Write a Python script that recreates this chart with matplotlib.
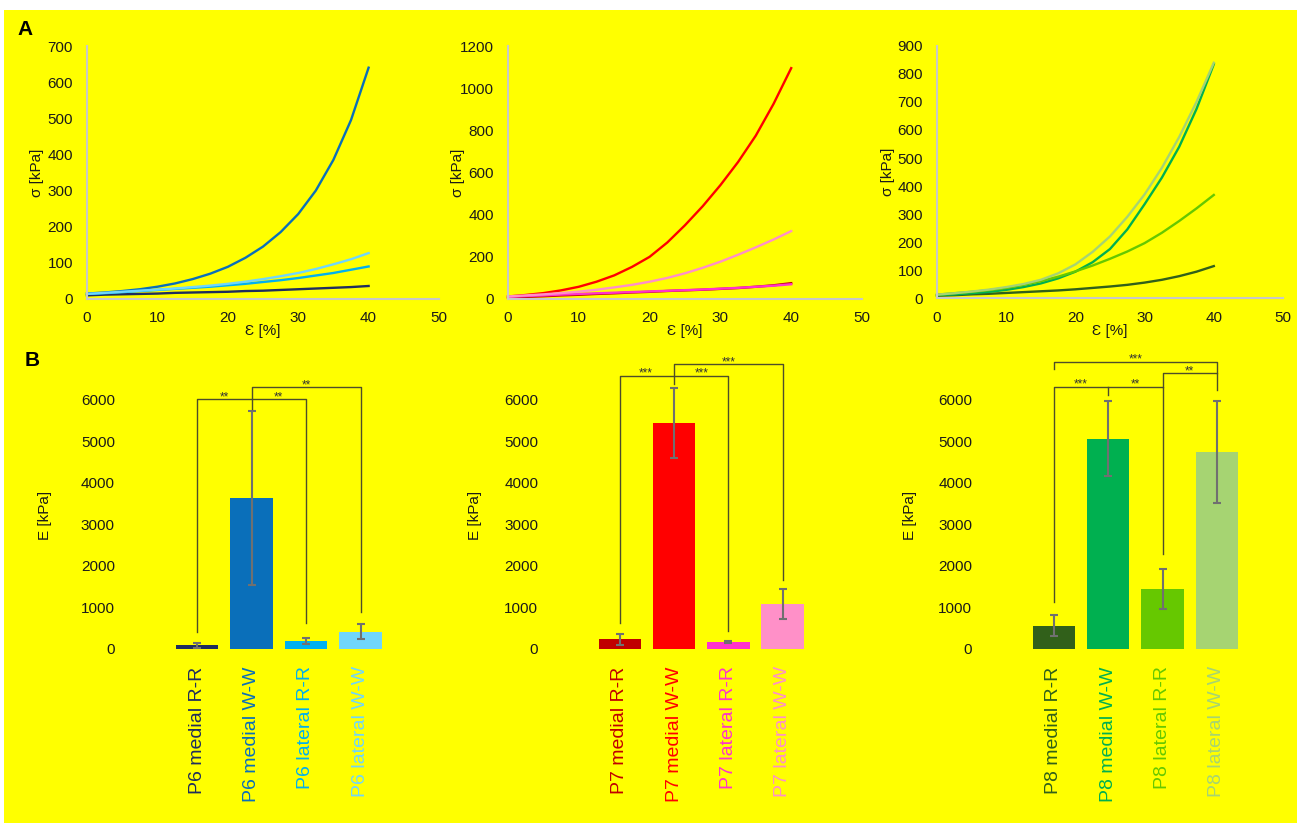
import numpy as np
import matplotlib.pyplot as plt
from matplotlib.patches import Rectangle

plt.rcParams['font.family'] = ['Liberation Sans', 'DejaVu Sans']

W, H = 1301, 825

# strain [%] at which stress is sampled
strain = [0, 2.5, 5, 7.5, 10, 12.5, 15, 17.5, 20, 22.5, 25, 27.5, 30, 32.5, 35, 37.5, 40]

# stress [kPa] per sample, order: medial R-R, medial W-W, lateral R-R, lateral W-W
p6_medial_rr = [10, 12, 13, 14, 15, 17, 18, 19, 20, 22, 23, 25, 27, 29, 31, 33, 36]
p6_medial_ww = [15, 18, 22, 27, 34, 43, 55, 70, 89, 114, 145, 185, 235, 300, 385, 495, 640]
p6_lateral_rr = [14, 16, 19, 22, 25, 28, 31, 34, 38, 42, 47, 52, 58, 65, 72, 81, 90]
p6_lateral_ww = [14, 17, 20, 23, 26, 29, 33, 37, 42, 48, 55, 63, 72, 83, 96, 110, 127]

p7_medial_rr = [6, 10, 13, 17, 20, 24, 27, 31, 34, 38, 41, 44, 48, 52, 58, 65, 75]
p7_medial_ww = [12, 19, 28, 41, 58, 82, 112, 152, 200, 268, 350, 440, 540, 650, 775, 925, 1095]
p7_lateral_rr = [10, 14, 17, 21, 24, 27, 30, 33, 36, 39, 42, 45, 49, 53, 58, 63, 70]
p7_lateral_ww = [12, 17, 22, 28, 35, 44, 55, 67, 82, 100, 122, 148, 177, 210, 245, 282, 322]

p8_medial_rr = [8, 10, 13, 15, 18, 21, 24, 27, 31, 36, 41, 47, 55, 65, 78, 94, 114]
p8_medial_ww = [10, 13, 17, 22, 29, 39, 52, 70, 94, 128, 175, 245, 335, 430, 540, 675, 835]
p8_lateral_rr = [12, 17, 22, 28, 36, 47, 60, 76, 95, 116, 140, 166, 196, 233, 275, 320, 368]
p8_lateral_ww = [12, 17, 23, 30, 39, 50, 65, 88, 120, 165, 220, 290, 370, 465, 575, 700, 840]

# elastic modulus E [kPa], mean and SD
groups = ['medial R-R', 'medial W-W', 'lateral R-R', 'lateral W-W']
p6_E = [90, 3630, 200, 420]
p6_sd = [60, 2100, 70, 190]
p7_E = [230, 5450, 170, 1085]
p7_sd = [140, 840, 20, 355]
p8_E = [560, 5060, 1450, 4750]
p8_sd = [250, 900, 480, 1230]

p6_colors = ['#1f2d5e', '#0a6fba', '#00b0f0', '#70d6fb']
p7_colors = ['#c00000', '#ff0000', '#ff33cc', '#ff90c8']
p8_colors = ['#31601a', '#00b050', '#66c800', '#a6d472']

fig = plt.figure(figsize=(W / 100, H / 100), dpi=100, facecolor='white')
fig.add_artist(Rectangle((4 / W, 1 - 823 / H), 1293 / W, 813 / H,
                         transform=fig.transFigure, facecolor='#ffff00',
                         edgecolor='none', zorder=-5))


def px_axes(l, t, r, b):
    ax = fig.add_axes([l / W, 1 - b / H, (r - l) / W, (b - t) / H])
    ax.set_facecolor('none')
    return ax


# --- A: stress-strain curves ---
stress_panels = [
    ((87, 46, 439, 299), 700, 100, [p6_medial_rr, p6_medial_ww, p6_lateral_rr, p6_lateral_ww], p6_colors, 37),
    ((508, 46, 862, 299), 1200, 200, [p7_medial_rr, p7_medial_ww, p7_lateral_rr, p7_lateral_ww], p7_colors, 458),
    ((937, 46, 1283, 298), 900, 100, [p8_medial_rr, p8_medial_ww, p8_lateral_rr, p8_lateral_ww], p8_colors, 888),
]
for box, ymax, ystep, curves, colors, ylab_x in stress_panels:
    l, t, r, b = box
    ax = px_axes(l, t, r, b)
    for vals, c in zip(curves, colors):
        ax.plot(strain, vals, color=c, lw=1.7, clip_on=False, solid_joinstyle='round')
    ax.set_xlim(0, 50)
    ax.set_ylim(0, ymax)
    ax.set_xticks(range(0, 51, 10))
    ax.set_yticks(np.arange(0, ymax + 1, ystep))
    for s in ['top', 'right']:
        ax.spines[s].set_visible(False)
    for s in ['left', 'bottom']:
        ax.spines[s].set_color('#c8c8c8')
        ax.spines[s].set_linewidth(1.5)
    ax.tick_params(axis='x', length=0, labelsize=11, pad=9, labelcolor='#1a1a1a')
    ax.tick_params(axis='y', length=0, labelsize=11, pad=10, labelcolor='#1a1a1a')
    ax.set_ylabel('σ [kPa]', fontsize=11, va='center', color='#1a1a1a')
    ax.yaxis.set_label_coords((ylab_x - l) / (r - l), 0.5)
    ax.set_xlabel('Ɛ [%]', fontsize=11, va='center', color='#1a1a1a')
    ax.xaxis.set_label_coords(0.5, (b - 331) / (b - t))

# --- B: elastic modulus bars with significance brackets ---
line_col = '#4d4d2a'
bar_panels = [
    (197, 54.5, 45, 'P6', p6_E, p6_sd, p6_colors,
     [[(0, 420), (0, 6020), (2, 6020), (2, 625)],
      [(1, 5780), (1, 6313), (3, 6313), (3, 890)]],
     [(0.5, 6020, '**'), (1.5, 6020, '**'), (2.0, 6313, '**')]),
    (620, 54.2, 475, 'P7', p7_E, p7_sd, p7_colors,
     [[(0, 625), (0, 6585), (2, 6585), (2, 425)],
      [(1, 6370), (1, 6865), (3, 6865), (3, 1670)]],
     [(0.47, 6585, '***'), (1.5, 6585, '***'), (2.0, 6865, '***')]),
    (1054, 54.3, 910, 'P8', p8_E, p8_sd, p8_colors,
     [[(0, 1120), (0, 6320), (2, 6320), (2, 2295)],
      [(1, 6125), (1, 6320)],
      [(2, 6320), (2, 6640), (3, 6640), (3, 6225)],
      [(0, 6745), (0, 6920), (3, 6920), (3, 6640)]],
     [(0.5, 6320, '***'), (1.5, 6320, '**'), (2.5, 6640, '**'), (1.5, 6920, '***')]),
]
for c0, step, ylab_x, name, E, sd, colors, brackets, stars in bar_panels:
    l = c0 - 1.32 * step
    r = c0 + 3.5 * step
    t, b = 350, 649
    ax = px_axes(l, t, r, b)
    x = np.arange(len(E))
    ax.bar(x, E, width=0.78, color=colors, yerr=sd,
           error_kw=dict(ecolor='#707070', elinewidth=1.5, capsize=3, capthick=1.5))
    ax.set_xlim(-1.32, 3.5)
    ax.set_ylim(0, 7200)
    ax.set_yticks(range(0, 6001, 1000))
    ax.set_xticks(x, [f'{name} {g}' for g in groups], rotation=90, fontsize=14,
                  va='top', ha='center')
    for lbl, c in zip(ax.get_xticklabels(), colors):
        lbl.set_color(c)
    for s in ax.spines.values():
        s.set_visible(False)
    ax.tick_params(axis='x', length=0, pad=12.5)
    ax.tick_params(axis='y', length=0, labelsize=11, pad=7.3, labelcolor='#1a1a1a')
    ax.set_ylabel('E [kPa]', fontsize=11, va='center', color='#1a1a1a')
    ax.yaxis.set_label_coords((ylab_x - l) / (r - l), (b - 515) / (b - t))
    for pts in brackets:
        xs, ys = zip(*pts)
        ax.plot(xs, ys, color=line_col, lw=1.0, clip_on=False)
    for sx, sy, s in stars:
        ax.text(sx, sy - 30, s, ha='center', va='baseline', fontsize=8.5, color='#333333')

fig.text(25 / W, 1 - 29.5 / H, 'A', fontsize=15, fontweight='bold', ha='center', va='center')
fig.text(32 / W, 1 - 361 / H, 'B', fontsize=15, fontweight='bold', ha='center', va='center')

fig.savefig('out.png', dpi=100, facecolor=fig.get_facecolor())
